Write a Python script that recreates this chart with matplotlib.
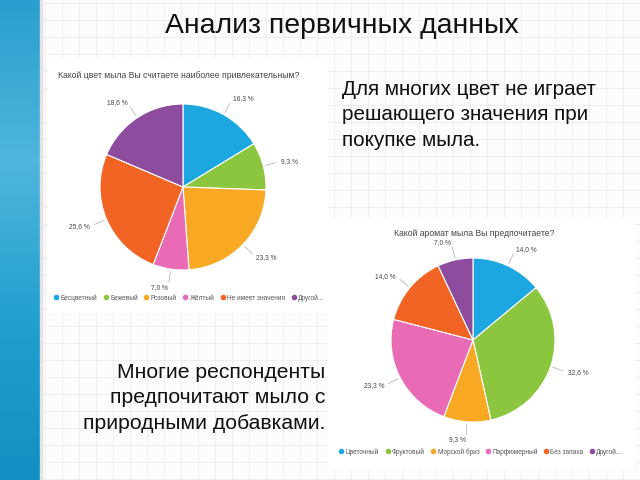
import numpy as np
import matplotlib.pyplot as plt
from matplotlib.patches import Rectangle
from matplotlib.lines import Line2D

plt.rcParams['font.family'] = ['Liberation Sans', 'DejaVu Sans']

# data
colors = ['#1ca7e0', '#8cc63f', '#f8a823', '#e96bb6', '#f26424', '#8e4c9e']

color_labels = ['Бесцветный', 'Бежевый', 'Розовый', 'Жёлтый', 'Не имеет значения', 'Другой...']
color_values = [16.3, 9.3, 23.3, 7.0, 25.6, 18.6]

aroma_labels = ['Цветочный', 'Фруктовый', 'Морской бриз', 'Парфюмерный', 'Без запаха', 'Другой...']
aroma_values = [14.0, 32.6, 9.3, 23.3, 14.0, 7.0]

W, H = 640, 480


def px_axes(fig, cx, cy, half):
    # axes (in pixel coordinates from top-left) centred on cx, cy
    return fig.add_axes([(cx - half) / W, (H - cy - half) / H, 2 * half / W, 2 * half / H])


def draw_pie(ax, values, lim):
    wedges, texts = ax.pie(values, colors=colors, startangle=90, counterclock=False,
                           labels=[('%.1f' % v).replace('.', ',') + ' %' for v in values],
                           labeldistance=1.22,
                           wedgeprops=dict(edgecolor='white', linewidth=0.8),
                           textprops=dict(fontsize=4.8, color='#444444'))
    for w in wedges:
        a = np.deg2rad((w.theta1 + w.theta2) / 2)
        ax.plot([1.03 * np.cos(a), 1.16 * np.cos(a)], [1.03 * np.sin(a), 1.16 * np.sin(a)],
                color='#aaaaaa', lw=0.5)
    ax.set_xlim(-lim, lim)
    ax.set_ylim(-lim, lim)
    ax.set_aspect('equal')
    ax.axis('off')


def legend(fig, labels, x, y):
    handles = [Line2D([], [], marker='o', ls='', color=c, markersize=3) for c in colors]
    fig.legend(handles, labels, loc='center left', bbox_to_anchor=(x / W, 1 - y / H),
               ncol=6, frameon=False, fontsize=4.7, handletextpad=0.25, columnspacing=0.9,
               handlelength=0.8, labelcolor='#555555')


fig = plt.figure(figsize=(6.4, 4.8), dpi=100)

# slide background with grid
bg = fig.add_axes([0, 0, 1, 1])
bg.set_xlim(0, W)
bg.set_ylim(H, 0)
bg.axis('off')
bg.add_patch(Rectangle((0, 0), W, H, color='#fcfcfc', zorder=0))
for gx in np.arange(45, W, 17):
    bg.axvline(gx, color='#e9e9e9', lw=0.5, zorder=1)
for gy in np.arange(3, H, 17):
    bg.axhline(gy, color='#e9e9e9', lw=0.5, zorder=1)

# blue band on the left
grad = np.linspace(0, 1, 100).reshape(-1, 1)
bg.imshow(grad, extent=(0, 40, H, 0), cmap=plt.matplotlib.colors.LinearSegmentedColormap.from_list(
    'b', ['#2a9fcf', '#4fb6dc', '#229fcf', '#1290c3']), aspect='auto', zorder=2)
t = np.linspace(-1.2, 1.2, 100)
for r, off in [(110, -75), (130, -60), (95, -50)]:
    bg.plot(off + r * np.cos(t) * 0.45, 200 + r * np.sin(t) * 1.3, color='white', lw=0.8, alpha=0.6, zorder=3)
bg.set_xlim(0, W)
bg.set_ylim(H, 0)
bg.add_patch(Rectangle((40, 0), 2, H, color='#e2e2e2', zorder=3))

# white chart panels
bg.add_patch(Rectangle((48, 58), 279, 254, color='white', zorder=4))
bg.add_patch(Rectangle((328, 218), 306, 250, color='white', zorder=4))

bg.text(342, 26, 'Анализ первичных данных', fontsize=20.4, ha='center', va='center', color='#111111', zorder=5)
bg.text(342, 80, 'Для многих цвет не играет\nрешающего значения при\nпокупке мыла.', fontsize=14.9,
        ha='left', va='top', color='#111111', linespacing=1.42, zorder=5)
bg.text(325, 363, 'Многие респонденты\nпредпочитают мыло с\nприродными добавками.', fontsize=15.2,
        ha='right', va='top', color='#111111', linespacing=1.42, zorder=5)

bg.text(58, 76, 'Какой цвет мыла Вы считаете наиболее привлекательным?', fontsize=6.2,
        ha='left', va='center', color='#444444', zorder=5)
bg.text(474, 233, 'Какой аромат мыла Вы предпочитаете?', fontsize=6.2,
        ha='center', va='center', color='#444444', zorder=5)

ax1 = px_axes(fig, 183, 187, 120)
draw_pie(ax1, color_values, 120 / 83)
ax2 = px_axes(fig, 473, 340, 118)
draw_pie(ax2, aroma_values, 118 / 82)

legend(fig, color_labels, 48, 298)
legend(fig, aroma_labels, 333, 452)

fig.savefig('out.png', dpi=100)
